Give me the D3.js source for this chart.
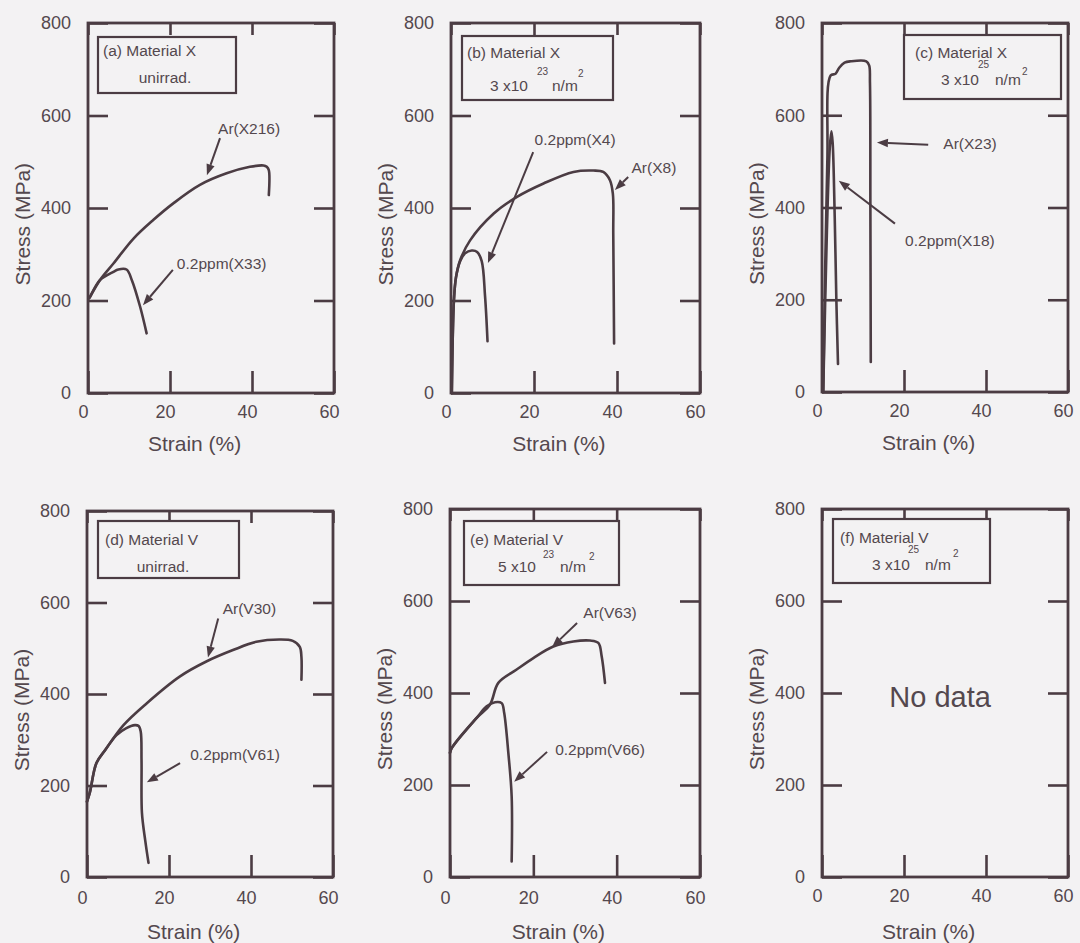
<!DOCTYPE html>
<html>
<head>
<meta charset="utf-8">
<script src="https://cdn.jsdelivr.net/npm/d3@7"></script>
<style>
  html, body { margin: 0; padding: 0; background: #f3f2f3; }
  svg { display: block; }
</style>
</head>
<body>
<svg id="chart" width="1080" height="943"></svg>
<script>
// Tensile stress–strain curves, materials X and V, unirradiated and irradiated

// ---- data ----
const strainTicks = [0, 20, 40, 60];
const stressTicks = [0, 200, 400, 600, 800];

const panelTitles = ["(a) Material X", "(b) Material X", "(c) Material X",
                     "(d) Material V", "(e) Material V", "(f) Material V"];
const fluenceText = ["unirrad.", "3 x10", "3 x10", "unirrad.", "5 x10", "3 x10"];
const fluenceExp  = ["", "23", "25", "", "23", "25"];
const fluenceUnit = ["", "n/m", "n/m", "", "n/m", "n/m"];

// [strain %, stress MPa]
const arX216 = [[0.3,205],[0.5,208],[2.9,244],[6.2,280],[11.1,334],[15.9,374],[20.8,410],
                [27.3,450],[33.8,475],[39.5,489],[42.8,492],[43.6,489],[44.1,482],[44.1,428]];
const ppmX33 = [[0.3,205],[0.5,208],[2.9,244],[6.2,262],[7.4,267],[9.4,267],[10.7,244],
                [12.7,187],[14.3,129]];

const arX8   = [[0.2,0],[0.7,200],[1.2,250],[2.2,287],[4.6,330],[10.3,388],[15.9,424],
                [22.3,453],[29.5,478],[34.3,481],[36.7,478],[38.3,460],[39,431],[39.1,344],[39.3,107]];
const ppmX4  = [[0.2,0],[0.7,200],[1.2,250],[2.2,285],[3.4,302],[5,308],[6.3,305],
                [7.4,285],[8.2,210],[8.8,112]];

const arX23  = [[0.3,0],[1.3,500],[2.1,686],[3.3,690],[4.2,703],[5.5,714],[7,717],
                [10.8,717],[11.5,708],[11.7,670],[11.8,400],[11.9,65]];
const ppmX18 = [[0.3,0],[1.2,350],[1.9,530],[2.3,565],[2.6,540],[3.1,380],[3.5,200],[3.9,61]];

const arV30  = [[0,165],[0.7,185],[2.3,249],[4.4,277],[8.9,332],[14.6,380],[22.6,438],
                [29.1,471],[35.6,496],[41.3,514],[47,519],[50.2,516],[51.9,503],[52.3,481],[52.3,431]];
const ppmV61 = [[0,165],[0.7,185],[2.3,249],[4.4,277],[7.2,310],[9.5,325],[11.7,332],
                [12.6,330],[13.1,318],[13.3,255],[13.4,140],[14.2,80],[15,31]];

const arV63  = [[0,270],[0.4,280],[6.4,346],[9.6,375],[11.6,422],[16,451],[20,476],
                [24.8,501],[29.6,512],[33.6,514],[35.6,509],[36.4,480],[37.2,422]];
const ppmV66 = [[0,270],[0.4,280],[6.4,346],[8.8,371],[10.8,380],[12.4,378],[13,357],
                [14,270],[14.8,175],[14.8,34]];

const curveNames = [["Ar(X216)", "0.2ppm(X33)"], ["0.2ppm(X4)", "Ar(X8)"],
                    ["Ar(X23)", "0.2ppm(X18)"], ["Ar(V30)", "0.2ppm(V61)"],
                    ["Ar(V63)", "0.2ppm(V66)"], []];
const curveData  = [[arX216, ppmX33], [ppmX4, arX8], [arX23, ppmX18],
                    [arV30, ppmV61], [arV63, ppmV66], []];
const emptyPanelText = "No data";

// ---- layout ----
const FONT = "'Liberation Sans', Arial, Helvetica, sans-serif";
const ink = "#4b3c43";
const textInk = "#54484e";

const frames = [
  {l: 88,  t: 23,  r: 334,  b: 393},
  {l: 451, t: 23,  r: 700,  b: 393},
  {l: 822, t: 23,  r: 1068, b: 392},
  {l: 87,  t: 511, r: 333,  b: 877},
  {l: 450, t: 509, r: 700,  b: 877},
  {l: 822, t: 509, r: 1068, b: 877}
];
const xTitleOffset = [50, 50, 50, 54, 54, 54];
const xLabelPad    = [12, 12, 12, 14, 14, 12];

// legend boxes, offsets relative to frame top-left
const legendLayout = [
  {x: 10, y: 14, w: 138, h: 56, tx: 5,  ty: 19, cx: 67, cy: 46},
  {x: 11, y: 13, w: 151, h: 64, tx: 5,  ty: 22, mx: 28, my: 55, ex: 75, ey: 39, ux: 90, uy: 55, sx: 116, sy: 41},
  {x: 82, y: 12, w: 157, h: 64, tx: 11, ty: 23, mx: 37, my: 50, ex: 74, ey: 33, ux: 91, uy: 50, sx: 118, sy: 40},
  {x: 11, y: 10, w: 141, h: 57, tx: 7,  ty: 24, cx: 65, cy: 51},
  {x: 14, y: 12, w: 155, h: 64, tx: 6,  ty: 24, mx: 34, my: 51, ex: 79, ey: 37, ux: 96, uy: 51, sx: 125, sy: 39},
  {x: 11, y: 10, w: 157, h: 64, tx: 7,  ty: 24, mx: 39, my: 51, ex: 75, ey: 34, ux: 92, uy: 51, sx: 120, sy: 38}
];

// annotation label centre and arrow, in data coordinates (strain, stress)
const annotLayout = [
  [{t: [39.3, 571], a: [32.2, 551], b: [29.0, 471]}, {t: [32.6, 281], a: [20.7, 266], b: [13.4, 190]}],
  [{t: [29.9, 549], a: [19.8, 521], b: [8.9, 281]},  {t: [48.9, 488], a: [42.7, 467], b: [39.5, 439]}],
  [{t: [36.1, 538], a: [25.9, 536], b: [13.4, 541]}, {t: [31.2, 329], a: [17.8, 365], b: [4.1, 458]}],
  [{t: [39.6, 587], a: [32.0, 565], b: [29.5, 480]}, {t: [36.1, 268], a: [22.7, 249], b: [14.6, 207]}],
  [{t: [38.4, 574], a: [30.5, 552], b: [24.5, 500]}, {t: [36.0, 278], a: [23.3, 272], b: [15.4, 207]}],
  []
];

const svg = d3.select("#chart");
svg.append("rect").attr("width", 1080).attr("height", 943).attr("fill", "#f3f2f3");

function styleAxis(sel, fontSize) {
  sel.attr("font-family", FONT).attr("font-size", fontSize);
  sel.select(".domain").remove();
  sel.selectAll(".tick line").attr("stroke", ink).attr("stroke-width", 2.6);
  sel.selectAll(".tick text").attr("fill", textInk);
}

function arrow(g, x1, y1, x2, y2) {
  const ang = Math.atan2(y2 - y1, x2 - x1);
  const L = 11, hw = 4.2;
  const bx = x2 - L * Math.cos(ang), by = y2 - L * Math.sin(ang);
  g.append("line")
    .attr("x1", x1).attr("y1", y1).attr("x2", bx).attr("y2", by)
    .attr("stroke", ink).attr("stroke-width", 2);
  const px = -Math.sin(ang) * hw, py = Math.cos(ang) * hw;
  g.append("path")
    .attr("d", `M${x2},${y2}L${bx + px},${by + py}L${bx - px},${by - py}Z`)
    .attr("fill", ink);
}

frames.forEach((f, i) => {
  const x = d3.scaleLinear().domain([0, 60]).range([f.l, f.r]);
  const y = d3.scaleLinear().domain([0, 800]).range([f.b, f.t]);
  const g = svg.append("g");

  // axes with inward ticks on all four sides
  g.append("g").attr("transform", `translate(${f.l},0)`)
    .call(d3.axisLeft(y).tickValues(stressTicks).tickSize(-20).tickPadding(17).tickFormat(d3.format("d")))
    .call(s => styleAxis(s, 18));
  g.append("g").attr("transform", `translate(${f.r},0)`)
    .call(d3.axisRight(y).tickValues(stressTicks).tickSize(-20).tickFormat(""))
    .call(s => styleAxis(s, 18));
  g.append("g").attr("transform", `translate(0,${f.b})`)
    .call(d3.axisBottom(x).tickValues(strainTicks).tickSize(-22).tickPadding(xLabelPad[i]).tickFormat(d3.format("d")))
    .call(s => { styleAxis(s, 18); s.selectAll(".tick text").attr("x", -5); });
  g.append("g").attr("transform", `translate(0,${f.t})`)
    .call(d3.axisTop(x).tickValues(strainTicks).tickSize(-12).tickFormat(""))
    .call(s => styleAxis(s, 18));

  // frame
  g.append("rect")
    .attr("x", x(0)).attr("y", y(800))
    .attr("width", x(60) - x(0)).attr("height", y(0) - y(800))
    .attr("fill", "none").attr("stroke", ink).attr("stroke-width", 2.8);

  // axis titles
  g.append("text")
    .attr("x", x(26)).attr("y", f.b + xTitleOffset[i])
    .attr("text-anchor", "middle").attr("dominant-baseline", "central")
    .attr("font-family", FONT).attr("font-size", 21).attr("fill", textInk)
    .text("Strain (%)");
  g.append("text")
    .attr("transform", `translate(${f.l - 66},${y(365)}) rotate(-90)`)
    .attr("text-anchor", "middle").attr("dominant-baseline", "central")
    .attr("font-family", FONT).attr("font-size", 21).attr("fill", textInk)
    .text("Stress (MPa)");

  // legend box
  const L = legendLayout[i];
  const bx = f.l + L.x, by = f.t + L.y;
  const lg = g.append("g").attr("font-family", FONT).attr("fill", textInk);
  lg.append("rect").attr("x", bx).attr("y", by).attr("width", L.w).attr("height", L.h)
    .attr("fill", "#f3f2f3").attr("stroke", ink).attr("stroke-width", 2.2);
  lg.append("text").attr("x", bx + L.tx).attr("y", by + L.ty).attr("font-size", 15.5)
    .text(panelTitles[i]);
  if (fluenceExp[i] === "") {
    lg.append("text").attr("x", bx + L.cx).attr("y", by + L.cy).attr("font-size", 15.5)
      .attr("text-anchor", "middle").text(fluenceText[i]);
  } else {
    lg.append("text").attr("x", bx + L.mx).attr("y", by + L.my).attr("font-size", 15.5).text(fluenceText[i]);
    lg.append("text").attr("x", bx + L.ex).attr("y", by + L.ey).attr("font-size", 10).text(fluenceExp[i]);
    lg.append("text").attr("x", bx + L.ux).attr("y", by + L.my).attr("font-size", 15.5).text(fluenceUnit[i]);
    lg.append("text").attr("x", bx + L.sx).attr("y", by + L.sy).attr("font-size", 10).text("2");
  }

  // curves, smoothed through the read-off points
  const line = d3.line().x(d => x(d[0])).y(d => y(d[1])).curve(d3.curveCatmullRom.alpha(0.5));
  curveData[i].forEach(pts => {
    g.append("path").attr("d", line(pts))
      .attr("fill", "none").attr("stroke", ink).attr("stroke-width", 2.6)
      .attr("stroke-linejoin", "round").attr("stroke-linecap", "round");
  });

  // curve labels with arrows
  annotLayout[i].forEach((an, k) => {
    g.append("text")
      .attr("x", x(an.t[0])).attr("y", y(an.t[1]))
      .attr("text-anchor", "middle").attr("dominant-baseline", "central")
      .attr("font-family", FONT).attr("font-size", 15.5).attr("fill", textInk)
      .text(curveNames[i][k]);
    arrow(g, x(an.a[0]), y(an.a[1]), x(an.b[0]), y(an.b[1]));
  });

  if (curveData[i].length === 0) {
    g.append("text")
      .attr("x", x(28.8)).attr("y", y(391))
      .attr("text-anchor", "middle").attr("dominant-baseline", "central")
      .attr("font-family", FONT).attr("font-size", 29).attr("fill", textInk)
      .text(emptyPanelText);
  }
});
</script>
</body>
</html>
